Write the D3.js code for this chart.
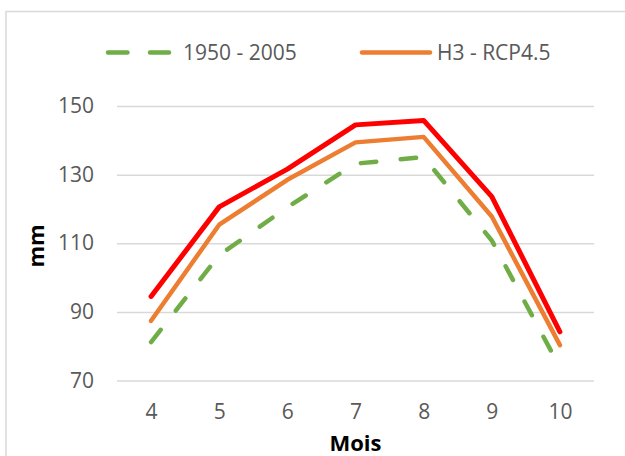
<!DOCTYPE html>
<html>
<head>
<meta charset="utf-8">
<script src="https://cdn.jsdelivr.net/npm/d3@7"></script>
<style>
  html, body { margin: 0; padding: 0; background: #fff; }
  svg { display: block; }
</style>
</head>
<body>
<svg id="chart" width="625" height="456"></svg>
<script>
const months = [4, 5, 6, 7, 8, 9, 10];
const yTicks = [70, 90, 110, 130, 150];
const seriesNames = ["1950 - 2005", "H3 - RCP4.5", "H3 - RCP8.5"];
const hist1950 = [81.2, 106.5, 120.5, 133.2, 135.1, 110.8, 73.8];
const rcp45 = [87.4, 115.4, 128.5, 139.4, 141.0, 117.8, 80.3];
const rcp85 = [94.5, 120.6, 131.6, 144.5, 145.8, 123.6, 84.2];

const svg = d3.select("#chart");
const W = 625, H = 456;
const plot = { left: 117, right: 594, top: 106, bottom: 380.5 };
const font = "'Open Sans', 'DejaVu Sans', sans-serif";
const textColor = "#595959";

// outer chart border (left & top visible)
svg.append("path")
  .attr("d", `M6,${H} L6,11.5 L${W},11.5`)
  .attr("fill", "none").attr("stroke", "#d9d9d9").attr("stroke-width", 1.5);

const x = d3.scalePoint().domain(months).range([plot.left, plot.right]).padding(0.5);
const y = d3.scaleLinear().domain([70, 150]).range([plot.bottom, plot.top]);

// Y axis with gridlines
const yAxis = svg.append("g")
  .attr("transform", `translate(${plot.left},0)`)
  .call(d3.axisLeft(y).tickValues(yTicks).tickSize(-(plot.right - plot.left)).tickPadding(23));
yAxis.select(".domain").remove();
yAxis.selectAll(".tick line").attr("stroke", "#d9d9d9").attr("stroke-width", 1.5);
yAxis.selectAll(".tick text")
  .attr("fill", textColor).attr("font-family", font).attr("font-size", 21);

// X axis
const xAxis = svg.append("g")
  .attr("transform", `translate(0,${plot.bottom})`)
  .call(d3.axisBottom(x).tickSize(0).tickPadding(0));
xAxis.select(".domain").remove();
xAxis.selectAll(".tick text")
  .attr("fill", textColor).attr("font-family", font).attr("font-size", 21)
  .attr("dy", null).attr("y", 419 - plot.bottom);

// Axis titles
svg.append("text")
  .attr("x", 355.5).attr("y", 451)
  .attr("text-anchor", "middle")
  .attr("font-family", font).attr("font-size", 22).attr("font-weight", "bold")
  .attr("fill", "#000").text("Mois");
svg.append("text")
  .attr("transform", "translate(44,246) rotate(-90)")
  .attr("text-anchor", "middle")
  .attr("font-family", font).attr("font-size", 22).attr("font-weight", "bold")
  .attr("fill", "#000").text("mm");

const line = d3.line().x((d, i) => x(months[i])).y(d => y(d));

// series
svg.append("path").datum(rcp85)
  .attr("d", line).attr("fill", "none")
  .attr("stroke", "#FF0000").attr("stroke-width", 5)
  .attr("stroke-linejoin", "round").attr("stroke-linecap", "round");
svg.append("path").datum(rcp45)
  .attr("d", line).attr("fill", "none")
  .attr("stroke", "#ED7D31").attr("stroke-width", 4.5)
  .attr("stroke-linejoin", "round").attr("stroke-linecap", "round");
svg.append("path").datum(hist1950)
  .attr("d", line).attr("fill", "none")
  .attr("stroke", "#70AD47").attr("stroke-width", 4.5)
  .attr("stroke-dasharray", "15.5,24.5")
  .attr("stroke-linejoin", "round").attr("stroke-linecap", "round");

// legend
const legY = 52.5;
const leg = svg.append("g");
leg.append("line")
  .attr("x1", 108).attr("x2", 169).attr("y1", legY).attr("y2", legY)
  .attr("stroke", "#70AD47").attr("stroke-width", 4.5)
  .attr("stroke-dasharray", "19.5,22.5").attr("stroke-linecap", "round");
leg.append("text")
  .attr("x", 183).attr("y", legY).attr("dy", "0.36em")
  .attr("font-family", font).attr("font-size", 21).attr("fill", textColor)
  .text(seriesNames[0]);
leg.append("line")
  .attr("x1", 362).attr("x2", 430).attr("y1", legY).attr("y2", legY)
  .attr("stroke", "#ED7D31").attr("stroke-width", 4.5).attr("stroke-linecap", "round");
leg.append("text")
  .attr("x", 437).attr("y", legY).attr("dy", "0.36em")
  .attr("font-family", font).attr("font-size", 21).attr("fill", textColor)
  .text(seriesNames[1]);
</script>
</body>
</html>
